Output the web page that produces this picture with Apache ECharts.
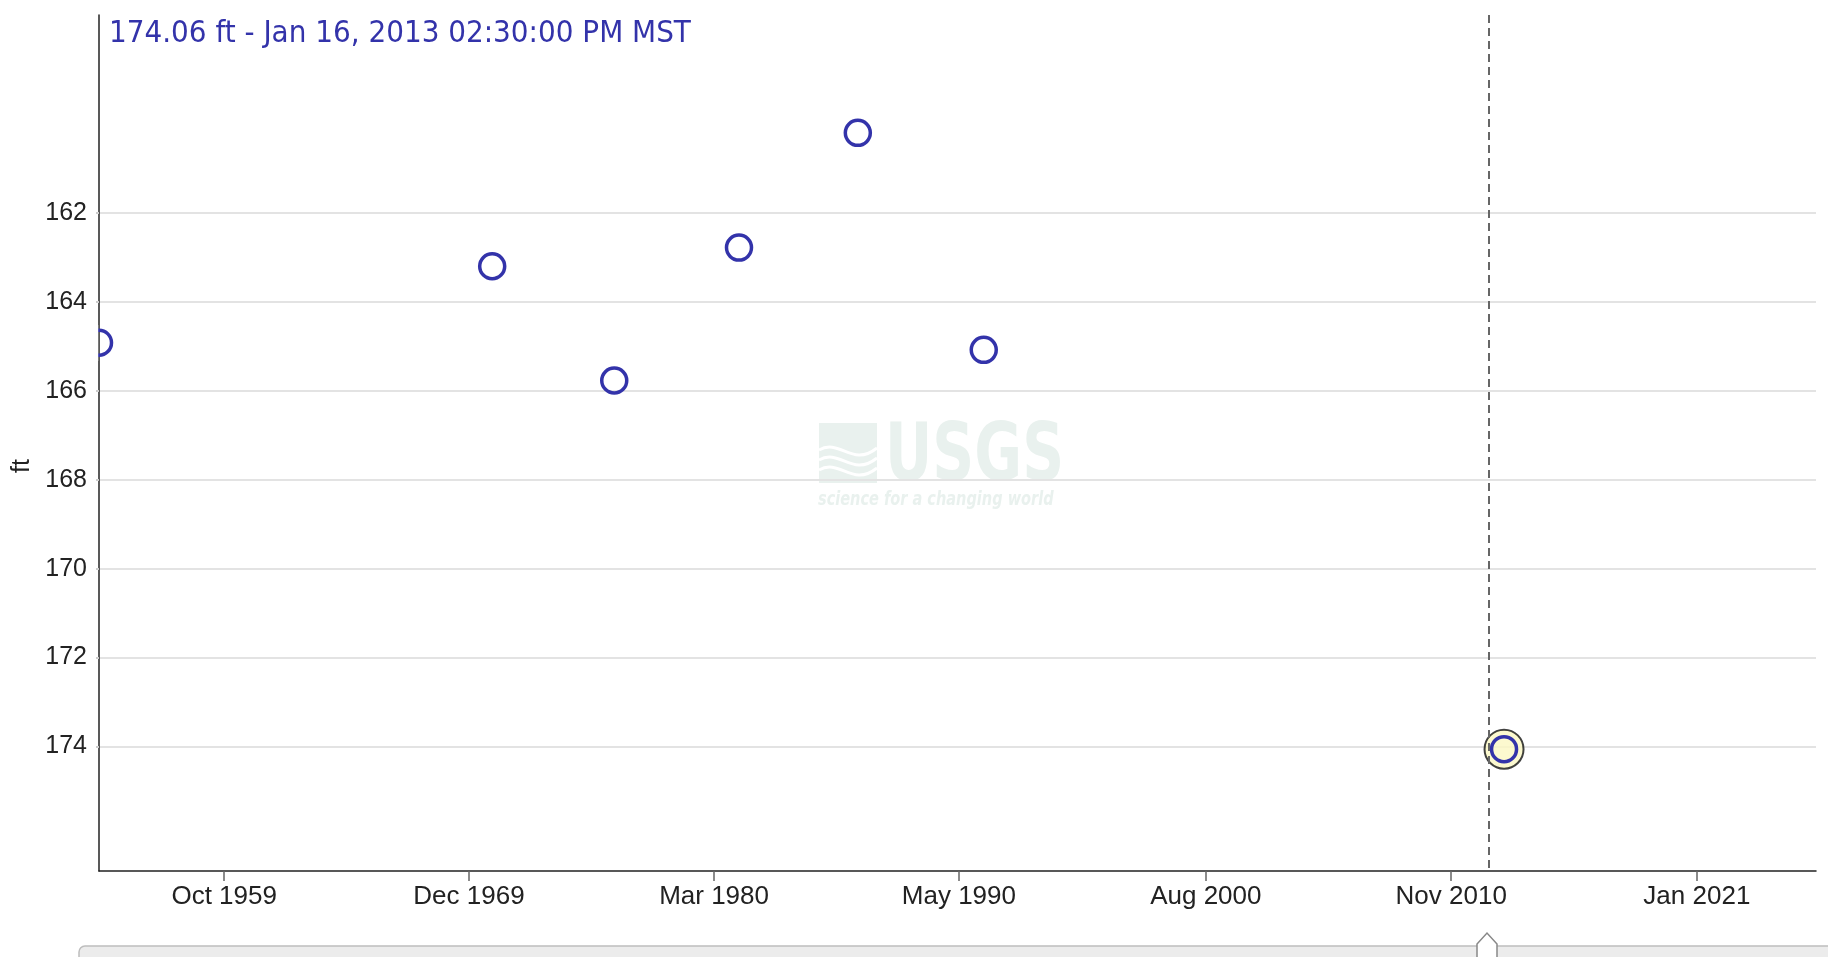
<!DOCTYPE html>
<html>
<head>
<meta charset="utf-8">
<title>Water level</title>
<script src="https://cdn.jsdelivr.net/npm/echarts@6/dist/echarts.min.js"></script>
<style>
  html, body { margin: 0; padding: 0; background: #fff; }
  #chart { width: 1828px; height: 957px; }
</style>
</head>
<body>
<div id="chart"></div>
<script>
(function() {
  // measurement dates and water level below land surface (ft)
  var dates = ["1954-07-31", "1970-12-10", "1976-01-08", "1981-03-18", "1986-02-26", "1991-05-25", "2013-01-16T14:30:00"];
  var levels = [164.92, 163.2, 165.77, 162.78, 160.2, 165.08, 174.06];

  // tick labels
  var yTicks = [162, 164, 166, 168, 170, 172, 174];
  var xTicks = ["1959-10-16", "1969-12-22", "1980-03-04", "1990-05-12", "2000-08-20", "2010-11-06", "2021-01-25"];
  var months = ["Jan", "Feb", "Mar", "Apr", "May", "Jun", "Jul", "Aug", "Sep", "Oct", "Nov", "Dec"];

  var xRange = ["1954-07-31", "2026-01-10"];
  var cursorDate = "2012-05-28"; // dashed marker
  var titleText = "174.06 ft - Jan 16, 2013 02:30:00 PM MST";

  var blue = "#3333aa";
  var ms = function(d) { return +new Date(d); };
  var points = dates.map(function(d, i) { return [ms(d), levels[i]]; });
  var last = points.length - 1;

  var myChart = echarts.init(document.getElementById("chart"));

  var option = {
    animation: false,
    backgroundColor: "#fff",
    title: {
      text: titleText,
      left: 104,
      top: 13,
      textStyle: {
        color: blue,
        fontSize: 31,
        fontWeight: "normal",
        fontFamily: "'Liberation Sans Narrow', 'DejaVu Sans Condensed', sans-serif"
      }
    },
    grid: { left: 99, right: 12, top: 15, bottom: 86, containLabel: false, outerBoundsMode: "none" },
    xAxis: {
      type: "value",
      min: ms(xRange[0]),
      max: ms(xRange[1]),
      axisLine: { onZero: false, lineStyle: { color: "#222", width: 1.5 } },
      axisTick: { customValues: xTicks.map(ms), length: 10, lineStyle: { color: "#666", width: 1.5 } },
      axisLabel: {
        customValues: xTicks.map(ms),
        margin: 13,
        color: "#222",
        fontSize: 26,
        fontFamily: "'Liberation Sans', Arial, sans-serif",
        formatter: function(v) {
          var d = new Date(v);
          return months[d.getMonth()] + " " + d.getFullYear();
        }
      },
      splitLine: { show: false }
    },
    yAxis: {
      type: "value",
      inverse: true,
      min: 157.55,
      max: 176.8,
      name: "ft",
      nameLocation: "middle",
      nameGap: 64,
      nameTextStyle: { color: "#222", fontSize: 25, fontFamily: "'Liberation Sans', Arial, sans-serif", padding: [0, 46, 0, 0] },
      axisLine: { show: true, onZero: false, lineStyle: { color: "#222", width: 1.5 } },
      axisTick: { show: true, customValues: yTicks, length: 3, lineStyle: { color: "#ccc", width: 2 } },
      axisLabel: { customValues: yTicks, margin: 12, color: "#222", fontSize: 25, fontFamily: "'Liberation Sans', Arial, sans-serif" },
      splitLine: { show: true, lineStyle: { color: "#e3e3e3", width: 2 } }
    },
    graphic: [
      { type: "rect", z: -10, silent: true, shape: { x: 819, y: 423, width: 58, height: 60 }, style: { fill: "#e9f1ee" } },
      { type: "bezierCurve", z: -9, silent: true, shape: { x1: 819, y1: 450, cpx1: 840, cpy1: 438, cpx2: 852, cpy2: 468, x2: 877, y2: 448 }, style: { stroke: "#fff", lineWidth: 3, fill: null } },
      { type: "bezierCurve", z: -9, silent: true, shape: { x1: 819, y1: 460, cpx1: 840, cpy1: 448, cpx2: 852, cpy2: 478, x2: 877, y2: 458 }, style: { stroke: "#fff", lineWidth: 3, fill: null } },
      { type: "bezierCurve", z: -9, silent: true, shape: { x1: 819, y1: 470, cpx1: 840, cpy1: 458, cpx2: 852, cpy2: 488, x2: 877, y2: 468 }, style: { stroke: "#fff", lineWidth: 3, fill: null } },
      { type: "text", z: -10, silent: true, x: 885, y: 419, scaleX: 0.81, style: { text: "USGS", fill: "#e9f1ee", font: "bold 80px 'Liberation Sans Narrow', 'DejaVu Sans Condensed', sans-serif" } },
      { type: "text", z: -10, silent: true, x: 818, y: 491, scaleX: 0.85, style: { text: "science for a changing world", fill: "#e9f1ee", font: "italic bold 19px 'Liberation Sans Narrow', 'DejaVu Sans Condensed', sans-serif" } },
      // the first point sits on the axis edge and is cut in half there
      { type: "rect", z: 100, silent: true, shape: { x: 82, y: 325, width: 16.2, height: 36 }, style: { fill: "#fff" } },
      // scroll track with handle at the bottom
      { type: "rect", silent: true, shape: { x: 79, y: 946, width: 1770, height: 24, r: 6 }, style: { fill: "#ececec", stroke: "#bdbdbd", lineWidth: 1.5 } },
      { type: "polygon", silent: true, shape: { points: [[1477, 960], [1477, 944], [1487, 933], [1497, 944], [1497, 960]] }, style: { fill: "#fff", stroke: "#888", lineWidth: 1.5 } }
    ],
    series: [
      {
        name: "selected",
        type: "scatter",
        z: 2,
        symbolSize: 39,
        itemStyle: { color: "#fbf8c3", borderColor: "#111", borderWidth: 2 },
        data: [points[last]]
      },
      {
        name: "level",
        type: "scatter",
        z: 3,
        symbolSize: 25,
        itemStyle: { color: "rgba(255,255,255,0)", borderColor: blue, borderWidth: 3.5, opacity: 1 },
        data: points,
        markLine: {
          silent: true,
          symbol: ["none", "none"],
          label: { show: false },
          lineStyle: { color: "#666", type: [8, 5], width: 2 },
          data: [{ xAxis: ms(cursorDate) }]
        }
      }
    ]
  };
  myChart.setOption(option);
  window.addEventListener("resize", function() {
    myChart.resize();
  });
})();
</script>
</body>
</html>
